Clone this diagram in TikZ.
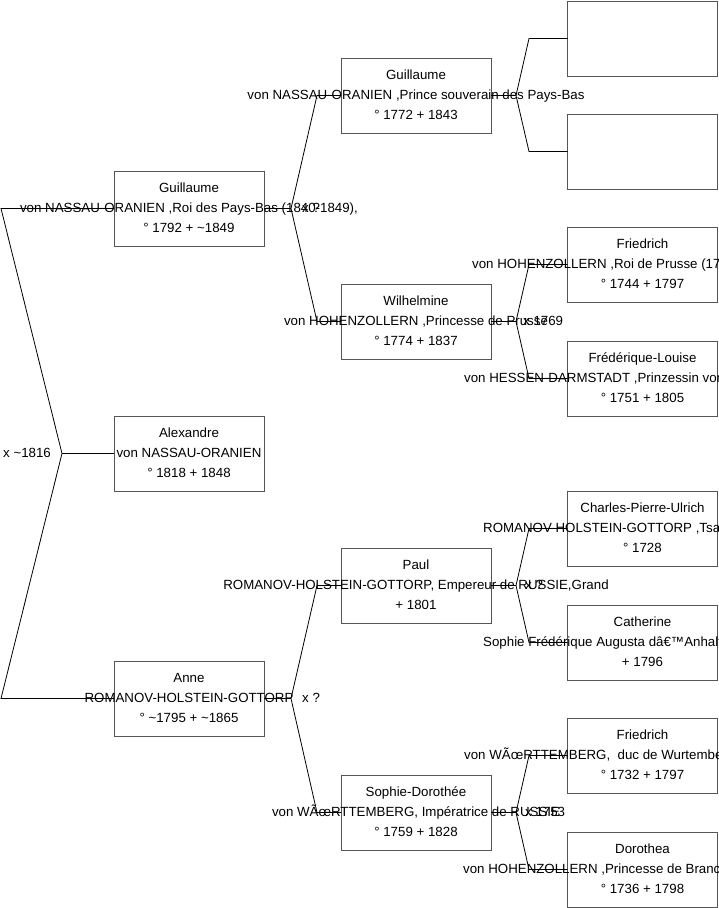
\documentclass[tikz,border=0pt]{standalone}
\usepackage{fontspec}
\setmainfont{Liberation Sans}
\definecolor{boxgray}{HTML}{555555}
\tikzset{
  pbox/.style={draw=boxgray, line width=1pt, minimum width=150pt, minimum height=75pt, inner sep=0pt, outer sep=0pt},
  ln/.style={font=\fontsize{13.3}{20}\selectfont, inner sep=0pt, anchor=base},
  lnw/.style={font=\fontsize{13.3}{20}\selectfont, inner sep=0pt, anchor=base west},
  conn/.style={draw=black, line width=0.8pt}
}
\newcommand\persbox[6]{%
  \node[pbox] (#1) at (#2,#3) {};
  \node[ln] (#1-a) at (#2,#3-16.5) {#4};
  \node[ln] (#1-b) at (#2,#3+3.5) {#5};
  \node[ln] (#1-c) at (#2,#3+23.5) {#6};
}
\newcommand\persboxcut[7]{%
  \node[pbox] (#1) at (#2,#3) {};
  \node[ln] (#1-a) at (#2,#3-16.5) {#4};
  \node[lnw] (#1-b) at (#5,#3+3.5) {#6};
  \node[ln] (#1-c) at (#2,#3+23.5) {#7};
}
\begin{document}
\begin{tikzpicture}[x=1pt,y=-1pt]
\useasboundingbox (0,0) rectangle (719,908);
\clip (0,0) rectangle (719,908);
% generation 1
\persbox{gui}{189}{208.5}{Guillaume}{von NASSAU-ORANIEN ,Roi des Pays-Bas (1840-1849),}{° 1792 + \textasciitilde 1849}
\persbox{alex}{189}{453.5}{Alexandre}{von NASSAU-ORANIEN}{° 1818 + 1848}
\persbox{anne}{189}{698.5}{Anne}{ROMANOV-HOLSTEIN-GOTTORP}{° \textasciitilde 1795 + \textasciitilde 1865}
% generation 2
\persbox{guif}{416}{95.5}{Guillaume}{von NASSAU-ORANIEN ,Prince souverain des Pays-Bas}{° 1772 + 1843}
\persbox{wil}{416}{321.5}{Wilhelmine}{von HOHENZOLLERN ,Princesse de Prusse}{° 1774 + 1837}
\persbox{paul}{416}{585.5}{Paul}{ROMANOV-HOLSTEIN-GOTTORP, Empereur de RUSSIE,Grand}{+ 1801}
\persbox{soph}{416}{812.5}{Sophie-Dorothée}{von WÃœRTTEMBERG, Impératrice de RUSSIE}{° 1759 + 1828}
% generation 3
\node[pbox] (e1) at (642.5,38.5) {};
\node[pbox] (e2) at (642.5,151.5) {};
\persboxcut{fri}{642.5}{264.5}{Friedrich}{472}{von HOHENZOLLERN ,Roi de Prusse (17}{° 1744 + 1797}
\persboxcut{frl}{642.5}{378.5}{Frédérique-Louise}{464}{von HESSEN-DARMSTADT ,Prinzessin von}{° 1751 + 1805}
\persboxcut{cha}{642.5}{528.5}{Charles-Pierre-Ulrich}{483}{ROMANOV-HOLSTEIN-GOTTORP ,Tsa}{° 1728}
\persboxcut{cat}{642.5}{642.5}{Catherine}{483}{Sophie Frédérique Augusta dâ€™Anhalt}{+ 1796}
\persboxcut{frw}{642.5}{755.5}{Friedrich}{464}{von WÃœRTTEMBERG,\ \ duc de Wurtembe}{° 1732 + 1797}
\persboxcut{dor}{642.5}{869.5}{Dorothea}{463}{von HOHENZOLLERN ,Princesse de Branc}{° 1736 + 1798}
% marriage labels
\node[lnw] (m0) at (3,457) {x \textasciitilde 1816};
\node[lnw] (m1) at (302,212) {x ?};
\node[lnw] (m2) at (302,702) {x ?};
\node[lnw] (m4) at (523,325) {x 1769};
\node[lnw] (m5) at (525,589) {x ?};
\node[lnw] (m6) at (525,816) {x 1753};
% junction points
\coordinate (v0) at (62,453.5);
\coordinate (c0a) at (1,208.5);
\coordinate (c0b) at (1,698.5);
\coordinate (v1) at (291,208.5);
\coordinate (c1a) at (317,95.5);
\coordinate (c1b) at (317,321.5);
\coordinate (v2) at (291,698.5);
\coordinate (c2a) at (317,585.5);
\coordinate (c2b) at (317,812.5);
\coordinate (v3) at (516,95.5);
\coordinate (c3a) at (529,38.5);
\coordinate (c3b) at (529,151.5);
\coordinate (v4) at (516,321.5);
\coordinate (c4a) at (529,264.5);
\coordinate (c4b) at (529,378.5);
\coordinate (v5) at (516,585.5);
\coordinate (c5a) at (529,528.5);
\coordinate (c5b) at (529,642.5);
\coordinate (v6) at (516,812.5);
\coordinate (c6a) at (529,755.5);
\coordinate (c6b) at (529,869.5);
% connectors
\draw[conn] (gui.west) -- (c0a) -- (v0) -- (c0b) -- (anne.west);
\draw[conn] (v0) -- (alex.west);
\draw[conn] (gui.east) -- (v1);
\draw[conn] (guif.west) -- (c1a) -- (v1) -- (c1b) -- (wil.west);
\draw[conn] (anne.east) -- (v2);
\draw[conn] (paul.west) -- (c2a) -- (v2) -- (c2b) -- (soph.west);
\draw[conn] (guif.east) -- (v3);
\draw[conn] (e1.west) -- (c3a) -- (v3) -- (c3b) -- (e2.west);
\draw[conn] (wil.east) -- (v4);
\draw[conn] (fri.west) -- (c4a) -- (v4) -- (c4b) -- (frl.west);
\draw[conn] (paul.east) -- (v5);
\draw[conn] (cha.west) -- (c5a) -- (v5) -- (c5b) -- (cat.west);
\draw[conn] (soph.east) -- (v6);
\draw[conn] (frw.west) -- (c6a) -- (v6) -- (c6b) -- (dor.west);
\end{tikzpicture}
\end{document}
